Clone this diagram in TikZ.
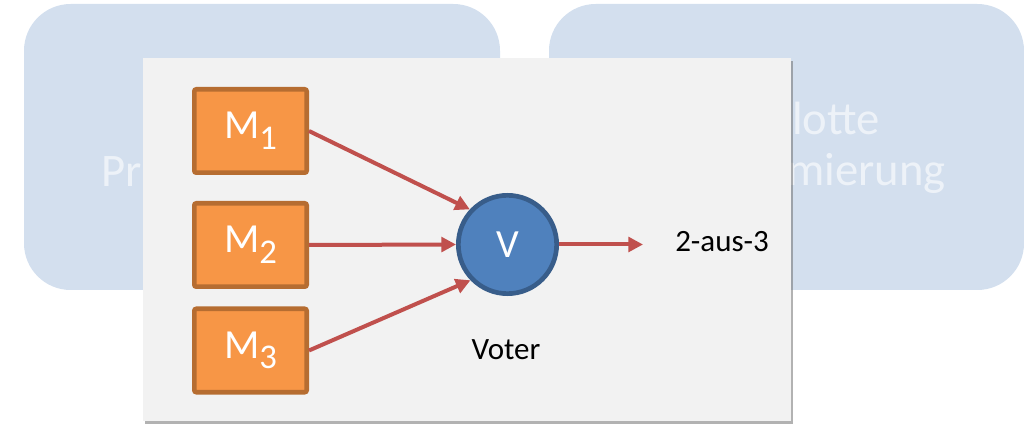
\documentclass[tikz,border=0pt]{standalone}
\usepackage{fontspec}
\setmainfont{Carlito}
\usepackage{tikz}
\usetikzlibrary{arrows.meta,positioning,shadows}
\definecolor{panelblue}{HTML}{D3DFEE}
\definecolor{cardgray}{HTML}{F2F2F2}
\definecolor{modfill}{HTML}{F79646}
\definecolor{moddraw}{HTML}{B66D31}
\definecolor{votfill}{HTML}{4F81BD}
\definecolor{votdraw}{HTML}{385D8A}
\definecolor{flowred}{HTML}{C0504D}
\newcommand{\modlabel}[1]{M\raisebox{-8pt}{\fontsize{26}{26}\selectfont #1}}
\tikzset{
  vpanel/.style   = {rectangle, rounded corners=35pt, fill=panelblue, draw=none},
  vpaneltxt/.style= {font=\fontsize{35}{40}\selectfont, text=white, text opacity=0.6,
                     inner sep=0pt},
  vcard/.style    = {rectangle, fill=cardgray, draw=none,
                     drop shadow={shadow xshift=1.5pt, shadow yshift=-2.5pt,
                                  opacity=0.5, fill=black!60}},
  vmod/.style     = {rectangle, rounded corners=1.5pt, draw=moddraw, fill=modfill,
                     line width=3.5pt, minimum width=84.25pt, minimum height=62.5pt,
                     text=white, font=\fontsize{31}{32}\selectfont, inner sep=0pt},
  vvote/.style    = {circle, draw=votdraw, fill=votfill, line width=3.5pt,
                     minimum size=73.75pt, text=white,
                     font=\fontsize{30}{32}\selectfont, inner sep=0pt},
  vtxt/.style     = {font=\fontsize{23.25}{26}\selectfont, inner sep=0pt},
  vflow/.style    = {-{Triangle[length=11pt, width=11pt]}, draw=flowred,
                     fill=flowred, line width=3pt},
}

\begin{document}
\begin{tikzpicture}[x=0.75pt, y=-0.75pt]
  \useasboundingbox (0,0) rectangle (1024,427);

  % background panels, mostly hidden by the card
  \node[vpanel, minimum width=357pt, minimum height=214.5pt] (pl) at (262,147) {};
  \node[vpanel, minimum width=356.25pt, minimum height=214.5pt] (pr) at (786.5,147) {};
  \node[vpaneltxt, anchor=base west] (plt) at (101,187) {Pr};
  \node[vpaneltxt, anchor=base east] (prt1) at (880,135) {lotte};
  \node[vpaneltxt, anchor=base east] (prt2) at (946,186) {mierung};

  % card
  \node[vcard, minimum width=486pt, minimum height=272.25pt] (card) at (467,239.5) {};

  \node[vmod] (m1) at (250.5,131)   {\modlabel{1}};
  \node[vmod] (m2) at (250.5,245)   {\modlabel{2}};
  \node[vmod] (m3) at (250.5,350.5) {\modlabel{3}};
  \node[vvote] (v) at (507.5,244.5) {V};
  \node[vtxt, anchor=base] (vlbl) at (506,360) {Voter};
  \node[vtxt, anchor=base west] (res) at (675,252) {2-aus-3};
  \coordinate (vout) at (643,244.5);

  \draw[vflow] (m1.east) -- (v.137);
  \draw[vflow] (m2.east) -- (v.west);
  \draw[vflow] (m3.east) -- (v.224);
  \draw[vflow] (v.east) -- (vout);
\end{tikzpicture}
\end{document}
